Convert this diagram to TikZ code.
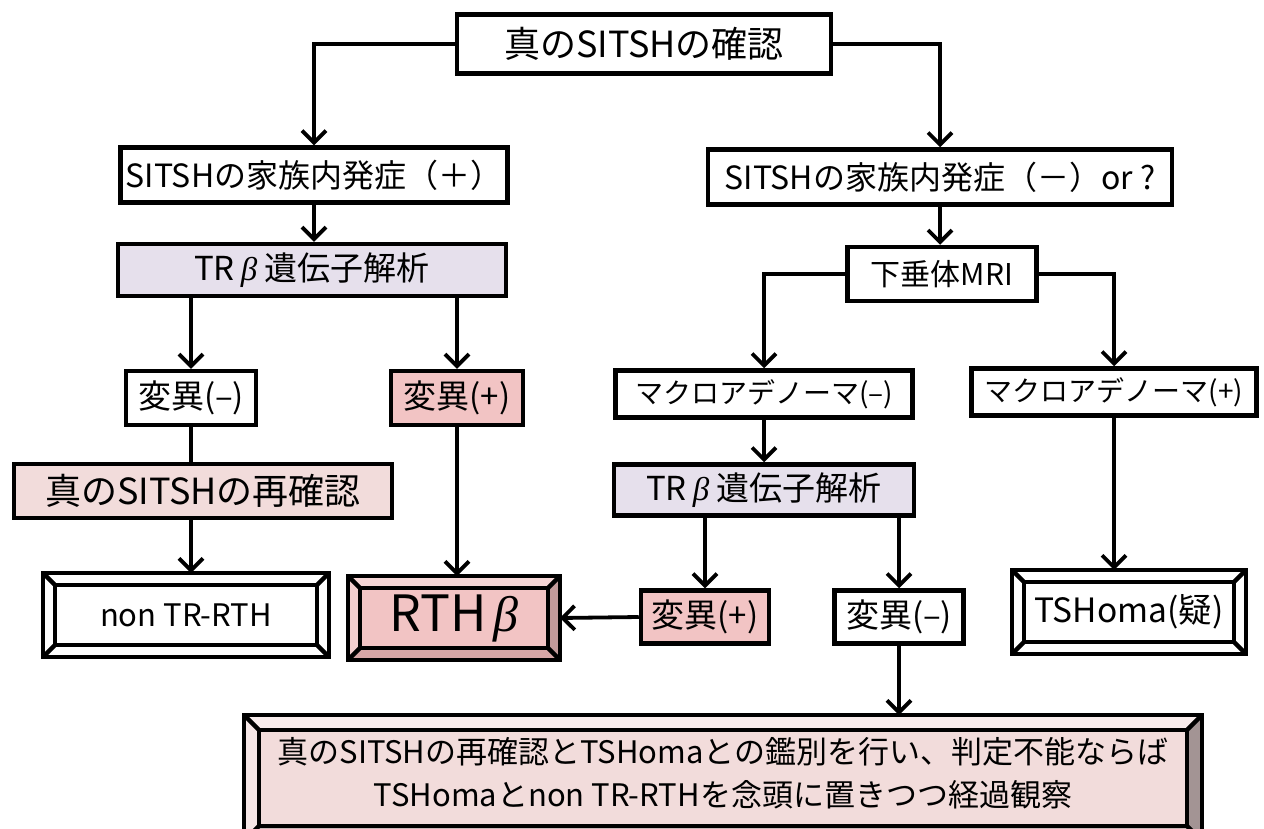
\documentclass[tikz,border=0pt]{standalone}
\usepackage{fontspec}
\setmainfont{Noto Sans CJK JP}
\newfontfamily\grk{Liberation Serif}
\newcommand\bet{{\grk\itshape β}}
\usetikzlibrary{arrows.meta,calc}
\definecolor{lav}{HTML}{E6E0EC}
\definecolor{pinkL}{HTML}{F2DCDB}
\definecolor{pinkM}{HTML}{F2C4C4}
\definecolor{rthT}{HTML}{F6D6D6}
\definecolor{rthL}{HTML}{F3CFCF}
\definecolor{rthB}{HTML}{D6A6A6}
\definecolor{rthR}{HTML}{C29A9A}
\definecolor{btT}{HTML}{F8ECEC}
\definecolor{btL}{HTML}{F5E6E6}
\definecolor{btB}{HTML}{C9B7B7}
\definecolor{btR}{HTML}{A39494}
\newcommand\bevelit[6]{%
  \fill[#3] (#1.north west) -- (#1.north east) -- ([shift={(-#2pt,-#2pt)}]#1.north east) -- ([shift={(#2pt,-#2pt)}]#1.north west) -- cycle;
  \fill[#4] (#1.north west) -- (#1.south west) -- ([shift={(#2pt,#2pt)}]#1.south west) -- ([shift={(#2pt,-#2pt)}]#1.north west) -- cycle;
  \fill[#5] (#1.south west) -- (#1.south east) -- ([shift={(-#2pt,#2pt)}]#1.south east) -- ([shift={(#2pt,#2pt)}]#1.south west) -- cycle;
  \fill[#6] (#1.north east) -- (#1.south east) -- ([shift={(-#2pt,#2pt)}]#1.south east) -- ([shift={(-#2pt,-#2pt)}]#1.north east) -- cycle;
  \draw[bev] (#1.north west) rectangle (#1.south east);
  \draw[bev] ([shift={(#2pt,-#2pt)}]#1.north west) rectangle ([shift={(-#2pt,#2pt)}]#1.south east);
  \draw[bev] (#1.north west) -- ([shift={(#2pt,-#2pt)}]#1.north west);
  \draw[bev] (#1.north east) -- ([shift={(-#2pt,-#2pt)}]#1.north east);
  \draw[bev] (#1.south west) -- ([shift={(#2pt,#2pt)}]#1.south west);
  \draw[bev] (#1.south east) -- ([shift={(-#2pt,#2pt)}]#1.south east);
}
\begin{document}
\begin{tikzpicture}[x=1pt,y=-1pt,
  box/.style={draw, line width=4.5pt, fill=white, inner sep=0pt, align=center, font=\fontsize{32}{36}\selectfont},
  bevnode/.style={draw=none, inner sep=0pt, outer sep=0pt, align=center},
  bev/.style={line width=4.5pt, line join=miter},
  ln/.style={line width=3.8pt},
  arr/.style={line width=3.8pt, -{Straight Barb[length=12pt,width=24pt,line width=3.8pt]}}]
\useasboundingbox (0,0) rectangle (1264,828);
\fill[white] (0,0) rectangle (1264,828);

% boxes
\node[box, minimum width=374pt, minimum height=59pt, font=\fontsize{36}{40}\selectfont] (top) at (644,44) {真のSITSHの確認};
\node[box, minimum width=387pt, minimum height=55pt] (famP) at (314,175) {SITSHの家族内発症（＋）};
\node[box, minimum width=464pt, minimum height=55pt] (famM) at (940,177) {SITSHの家族内発症（－）or ?};
\node[box, fill=lav, minimum width=388pt, minimum height=52pt, font=\fontsize{33}{36}\selectfont] (trL) at (312,270) {TR\hspace{6pt}\bet\ 遺伝子解析};
\node[box, minimum width=130pt, minimum height=54pt, font=\fontsize{33}{36}\selectfont] (mutNL) at (191,398) {変異(–)};
\node[box, fill=pinkM, minimum width=132pt, minimum height=54pt, font=\fontsize{33}{36}\selectfont] (mutPL) at (457,398) {変異(+)};
\node[box, fill=pinkL, minimum width=378pt, minimum height=54pt, font=\fontsize{36}{40}\selectfont] (recL) at (203,491) {真のSITSHの再確認};
\node[box, minimum width=189pt, minimum height=54pt, font=\fontsize{30}{34}\selectfont] (mri) at (942,274) {下垂体MRI};
\node[box, minimum width=297pt, minimum height=47pt, font=\fontsize{28}{32}\selectfont] (macM) at (764,394) {マクロアデノーマ(–)};
\node[box, minimum width=285pt, minimum height=47pt, font=\fontsize{28}{32}\selectfont] (macP) at (1114,392) {マクロアデノーマ(+)};
\node[box, fill=lav, minimum width=300pt, minimum height=51pt, font=\fontsize{33}{36}\selectfont] (trR) at (764,490) {TR\hspace{6pt}\bet\ 遺伝子解析};
\node[box, fill=pinkM, minimum width=128pt, minimum height=53pt, font=\fontsize{33}{36}\selectfont] (mutPR) at (705,617) {変異(+)};
\node[box, minimum width=129pt, minimum height=53pt, font=\fontsize{33}{36}\selectfont] (mutNR) at (899,617) {変異(–)};

% bevel boxes
\node[bevnode, fill=white, minimum width=286pt, minimum height=84pt, font=\fontsize{31}{36}\selectfont] (nonTR) at (186,615) {non TR-RTH};
\bevelit{nonTR}{12}{white}{white}{white}{white}
\node[bevnode, fill=pinkM, minimum width=212pt, minimum height=84pt, font=\fontsize{50}{54}\selectfont] (rth) at (454,618) {RTH\hspace{6pt}\bet};
\bevelit{rth}{12}{rthT}{rthL}{rthB}{rthR}
\node[bevnode, fill=white, minimum width=234pt, minimum height=84pt, font=\fontsize{33.5}{38}\selectfont] (tsh) at (1129,612) {TSHoma(疑)};
\bevelit{tsh}{12}{white}{white}{white}{white}
\node[bevnode, fill=pinkL, minimum width=958pt, minimum height=126pt] (bot) at (723,778) {};
\bevelit{bot}{15}{btT}{btL}{btB}{btR}
\node[align=center, inner sep=0pt, font=\fontsize{31}{43}\selectfont] (btxt) at (723,773) {真のSITSHの再確認とTSHomaとの鑑別を行い、判定不能ならば\\TSHomaとnon TR-RTHを念頭に置きつつ経過観察};

% connectors
\draw[arr] (top.west) -| (famP.north);
\draw[arr] (top.east) -| (famM.north);
\draw[arr] (famP.south) -- (famP.south |- trL.north);
\draw[arr] (trL.south -| mutNL.north) -- (mutNL.north);
\draw[arr] (trL.south -| mutPL.north) -- (mutPL.north);
\draw[ln] (mutNL.south) -- (mutNL.south |- recL.north);
\draw[arr] (mutNL.south |- recL.south) -- (mutNL.south |- nonTR.north);
\draw[arr] (mutPL.south) -- (mutPL.south |- rth.north);
\draw[arr] (famM.south) -- (famM.south |- mri.north);
\draw[arr] (mri.west) -| (macM.north);
\draw[arr] (mri.east) -| (macP.north);
\draw[arr] (macM.south) -- (macM.south |- trR.north);
\draw[arr] (trR.south -| mutPR.north) -- (mutPR.north);
\draw[arr] (trR.south -| mutNR.north) -- (mutNR.north);
\draw[arr] (mutNR.south) -- (mutNR.south |- bot.north);
\draw[arr] (mutPR.west) -- (rth.east);
\draw[arr] (macP.south) -- (macP.south |- tsh.north);
\end{tikzpicture}
\end{document}
